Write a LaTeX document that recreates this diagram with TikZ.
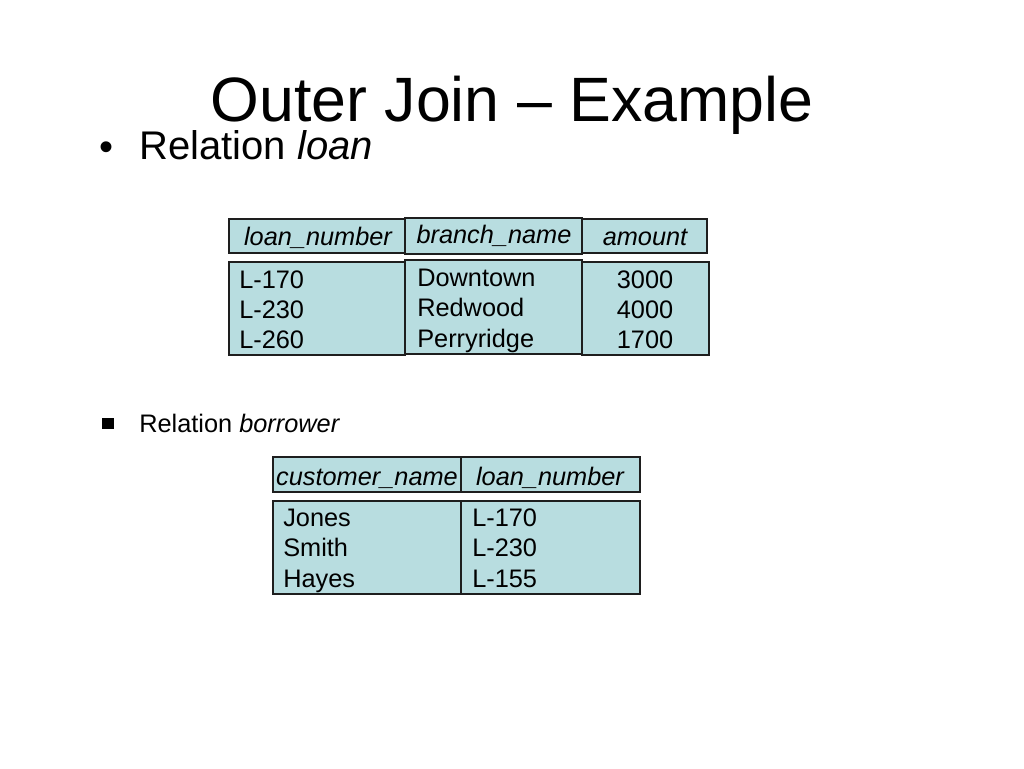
\documentclass[tikz,border=0pt]{standalone}
\usepackage{fontspec}
\setmainfont{Liberation Sans}
\usepackage{tikz}
\definecolor{cellfill}{HTML}{B8DDE0}
\definecolor{edge}{HTML}{1E1E1E}
\tikzset{
  cell/.style={fill=cellfill, draw=edge, line width=1.1pt},
  hdr/.style={font=\fontsize{19}{23}\selectfont\itshape, inner sep=0pt, anchor=base},
  val/.style={font=\fontsize{19}{23}\selectfont, inner sep=0pt, anchor=base west},
  num/.style={font=\fontsize{19}{23}\selectfont, inner sep=0pt, anchor=base},
  title/.style={font=\fontsize{47}{56}\selectfont, inner sep=0pt, anchor=base},
  item/.style={font=\fontsize{30}{36}\selectfont, inner sep=0pt, anchor=base west},
  subitem/.style={font=\fontsize{19}{23}\selectfont, inner sep=0pt, anchor=base west}
}
\begin{document}
\begin{tikzpicture}[x=0.75pt, y=-0.75pt]
  \fill[white] (0,0) rectangle (1024,768);
  \useasboundingbox (0,0) rectangle (1024,768);

  \node[title] (title) at (512,121) {Outer Join -- Example};

  % relation loan
  \node[item] (dot1) at (99,160) {\textbullet};
  \node[item] (rel1) at (139,159) {Relation \textit{loan}};

  \draw[cell] (229,219) rectangle (405,253);
  \draw[cell] (582,219) rectangle (707,253);
  \draw[cell] (405,218) rectangle (582,254);
  \node[hdr] (lnum) at (318,245) {loan\_number};
  \node[hdr] (bname) at (494,243) {branch\_name};
  \node[hdr] (amt) at (645,245) {amount};

  \draw[cell] (229,262) rectangle (405,355);
  \draw[cell] (582,262) rectangle (709,355);
  \draw[cell] (405,260) rectangle (582,354);
  \node[val] (l1) at (239,288) {L-170};
  \node[val] (l2) at (239,318) {L-230};
  \node[val] (l3) at (239,348) {L-260};
  \node[val] (b1) at (417,286) {Downtown};
  \node[val] (b2) at (417,316) {Redwood};
  \node[val] (b3) at (417,347) {Perryridge};
  \node[num] (a1) at (645,288) {3000};
  \node[num] (a2) at (645,318) {4000};
  \node[num] (a3) at (645,348) {1700};

  % relation borrower
  \fill (102,418) rectangle (114,429);
  \node[subitem] (rel2) at (139,432) {Relation \textit{borrower}};

  \draw[cell] (273,457) rectangle (640,492);
  \draw[edge, line width=1.1pt] (461,457) -- (461,492);
  \node[hdr] (cname) at (367,485) {customer\_name};
  \node[hdr] (bnum) at (550,485) {loan\_number};

  \draw[cell] (273,501) rectangle (640,594);
  \draw[edge, line width=1.1pt] (461,501) -- (461,594);
  \node[val] (c1) at (283,526) {Jones};
  \node[val] (c2) at (283,556) {Smith};
  \node[val] (c3) at (283,587) {Hayes};
  \node[val] (n1) at (472,526) {L-170};
  \node[val] (n2) at (472,556) {L-230};
  \node[val] (n3) at (472,587) {L-155};
\end{tikzpicture}
\end{document}
